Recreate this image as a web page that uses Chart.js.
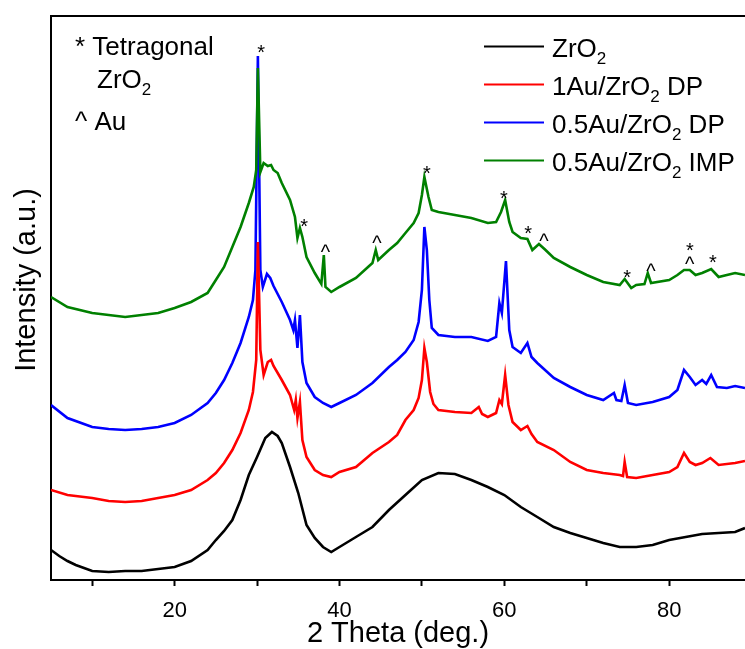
<!DOCTYPE html>
<html>
<head>
<meta charset="UTF-8">
<title>XRD - Au/ZrO2</title>
<script src="https://cdn.jsdelivr.net/npm/chart.js"></script>
<style>
  body { margin: 0; background: #fff; }
  canvas { display: block; }
</style>
</head>
<body>
<canvas id="chart" width="745" height="649"></canvas>
<script>
// [2theta, intensity], curves already stacked with their offsets
const zro2 = [
  [5,30],[6,24],[7,19],[8,15],[10,9],[12,8],[14,9],[16,9],[18,11],[20,13],[22,19],[24,30],
  [25,40],[26,49],[27,60],[28,80],[29,105],[30,123],[31,142],[31.8,148],[32.5,144],[33,137],
  [34,113],[35,87],[36,55],[37,42],[38,33],[39,28],[40,33],[42,43],[44,53],[46,70],[48,85],
  [50,100],[52,107],[54,106],[56,100],[58,93],[60,85],[62,73],[64,63],[66,53],[68,47],[70,42],
  [72,37],[74,33],[76,33],[78,35],[80,40],[82,43],[84,46],[86,47],[88,48],[89.2,52]
];
const au1Dp = [
  [5,90],[7,85],[10,82],[12,79],[14,78],[16,79],[18,82],[20,85],[22,90],[24,100],[25,107],
  [26,117],[27,130],[28,147],[29,170],[29.5,188],[29.9,220],[30.1,338],[30.4,230],[30.8,205],
  [31.3,218],[31.7,220],[32,214],[33,200],[34,185],[34.5,170],[34.7,180],[34.9,162],[35.2,178],
  [35.5,140],[36,123],[37,110],[38,105],[39,103],[40,108],[42,113],[44,127],[46,138],[47,145],
  [48,160],[49,170],[49.6,182],[50,200],[50.3,232],[50.6,218],[51,188],[51.4,176],[52,170],
  [54,168],[56,167],[56.9,173],[57.3,166],[58,163],[59,167],[59.4,180],[59.7,176],[60.1,205],
  [60.5,175],[61,158],[62,150],[62.8,154],[63.3,146],[64,138],[66,130],[68,118],[70,110],
  [72,107],[74,105],[74.4,104],[74.6,118],[74.9,103],[76,102],[78,105],[80,108],[81,113],
  [81.8,127],[82.5,118],[83.2,115],[84,117],[85,122],[86,115],[88,117],[89.2,119]
];
const au05Dp = [
  [5,175],[7,162],[10,153],[12,151],[14,150],[16,151],[18,153],[20,157],[22,165],[24,177],
  [25,187],[26,200],[27,217],[28,237],[29,263],[29.5,280],[29.8,310],[30.1,524],[30.4,310],
  [30.7,293],[31.2,306],[31.6,302],[32,294],[33,278],[34,260],[34.4,250],[34.6,260],[34.9,232],
  [35.2,265],[35.5,218],[36,197],[37,183],[38,177],[39,173],[40,177],[42,185],[44,197],[46,213],
  [47,220],[48,228],[49,240],[49.6,258],[50,290],[50.3,353],[50.6,330],[50.9,280],[51.2,252],
  [52,245],[54,243],[56,243],[58,239],[59,243],[59.4,277],[59.7,267],[60.2,319],[60.6,250],
  [61,233],[62,227],[62.8,237],[63.3,223],[64,217],[66,202],[68,193],[70,185],[72,180],
  [73.3,187],[73.6,180],[74.2,179],[74.6,195],[75,177],[76,175],[78,178],[80,183],[81,190],
  [81.8,210],[82.5,203],[83.2,195],[84,200],[84.5,196],[85.1,205],[85.8,193],[87,192],[88,194],
  [89.2,192]
];
const au05Imp = [
  [5,283],[7,273],[10,267],[12,265],[14,263],[16,265],[18,267],[20,272],[22,278],[24,287],
  [25,300],[26,313],[27,333],[28,353],[29,377],[29.6,393],[29.9,410],[30.1,512],[30.4,408],
  [30.8,417],[31.3,414],[31.7,415],[32,410],[32.5,407],[33,397],[34,380],[34.6,363],[34.9,342],
  [35.2,352],[35.5,343],[36,323],[37,307],[37.8,296],[38.1,325],[38.3,293],[39,288],[40,293],
  [42,302],[44,317],[44.4,330],[44.7,320],[46,330],[47,337],[48,347],[49,357],[49.6,367],
  [50,385],[50.3,403],[50.8,383],[51.2,370],[52,368],[54,365],[56,362],[58,357],[59,358],
  [59.6,368],[60.1,380],[60.6,358],[61,348],[62,342],[62.8,341],[63.4,330],[64.2,336],[65,330],
  [66,322],[68,313],[70,305],[72,298],[74,295],[74.6,301],[75.4,292],[76,295],[77,296],
  [77.4,307],[77.8,297],[80,300],[81,305],[81.8,310],[82.5,310],[83.2,305],[84,307],[85.1,311],
  [86,303],[87,305],[88,307],[89.2,305]
];

const seriesNames = ['ZrO₂', '1Au/ZrO₂ DP', '0.5Au/ZrO₂ DP', '0.5Au/ZrO₂ IMP'];
const seriesData = [zro2, au1Dp, au05Dp, au05Imp];
const seriesColors = ['#000000', '#ff0000', '#0000ff', '#008000'];
const drawOrder = [3, 1, 2, 0];

// reflection markers on the IMP pattern
const markerTheta  = [30.5, 35.7, 38.3, 44.55, 50.6, 59.95, 62.9, 64.8, 74.9, 77.8, 82.5, 82.5, 85.3];
const markerLevel  = [532, 358, 332, 341, 411, 386, 351, 343, 307, 313, 334, 320, 322];
const markerSymbol = ['*', '*', '^', '^', '*', '*', '*', '^', '*', '^', '*', '^', '*'];

const phaseKey = ['* Tetragonal', 'ZrO₂', '^ Au'];

const xTicks = [10, 20, 30, 40, 50, 60, 70, 80];
const xTickLabels = [20, 40, 60, 80];
const yTitle = 'Intensity (a.u.)';

const FONT = "'Liberation Sans', Arial, sans-serif";
Chart.defaults.font.family = FONT;
Chart.defaults.color = '#000';

function drawRich(ctx, text, x, y, size) {
  let cx = x;
  for (const part of text.split(/(₂)/)) {
    if (!part) continue;
    if (part === '₂') {
      ctx.font = Math.round(size * 0.66) + 'px ' + FONT;
      ctx.fillText('2', cx, y + size * 0.27);
      cx += ctx.measureText('2').width;
    } else {
      ctx.font = size + 'px ' + FONT;
      ctx.fillText(part, cx, y);
      cx += ctx.measureText(part).width;
    }
  }
}

const overlay = {
  id: 'overlay',
  afterDraw(chart) {
    const { ctx, scales: { x, y } } = chart;
    ctx.save();
    ctx.fillStyle = '#000';

    ctx.font = '20px ' + FONT;
    ctx.textAlign = 'center';
    ctx.textBaseline = 'alphabetic';
    markerTheta.forEach((t, i) => {
      ctx.fillText(markerSymbol[i], x.getPixelForValue(t), y.getPixelForValue(markerLevel[i]) + 11);
    });

    // y axis title, sits a bit above the axis middle in the original
    ctx.save();
    ctx.translate(35, 280);
    ctx.rotate(-Math.PI / 2);
    ctx.font = '29px ' + FONT;
    ctx.fillText(yTitle, 0, 0);
    ctx.restore();

    ctx.textAlign = 'left';
    seriesNames.forEach((name, i) => {
      const ly = 46.5 + i * 38;
      ctx.strokeStyle = seriesColors[i];
      ctx.lineWidth = 2;
      ctx.beginPath();
      ctx.moveTo(484, ly);
      ctx.lineTo(544, ly);
      ctx.stroke();
      drawRich(ctx, name, 552, ly + 10, 26);
    });

    drawRich(ctx, phaseKey[0], 75, 55, 26);
    drawRich(ctx, phaseKey[1], 97, 88, 26);
    drawRich(ctx, phaseKey[2], 75, 130, 26);
    ctx.restore();
  }
};

new Chart(document.getElementById('chart'), {
  type: 'line',
  data: {
    datasets: seriesData.map((d, i) => ({
      label: seriesNames[i],
      data: d.map(([x, y]) => ({ x, y })),
      borderColor: seriesColors[i],
      borderWidth: 2.6,
      pointRadius: 0,
      tension: 0,
      fill: false,
      order: drawOrder[i]
    }))
  },
  options: {
    responsive: false,
    animation: false,
    devicePixelRatio: 1,
    layout: { padding: { top: 16, left: 0, right: 0, bottom: 0 } },
    plugins: { legend: { display: false }, tooltip: { enabled: false } },
    scales: {
      x: {
        type: 'linear',
        position: 'bottom',
        min: 5,
        max: 89.2,
        afterBuildTicks: s => { s.ticks = xTicks.map(v => ({ value: v })); },
        afterFit: s => { s.height = 69; },
        ticks: {
          callback: v => xTickLabels.includes(v) ? String(v) : '',
          font: { size: 22 },
          padding: 12,
          maxRotation: 0,
          autoSkip: false
        },
        grid: { display: true, drawOnChartArea: false, drawTicks: true, tickLength: 6, tickWidth: 2, tickColor: '#000' },
        border: { display: true, color: '#000', width: 2 },
        title: { display: true, text: '2 Theta (deg.)', font: { size: 29, lineHeight: 1 }, padding: { top: 0, bottom: 1 } }
      },
      xTop: {
        type: 'linear',
        position: 'top',
        min: 5,
        max: 89.2,
        ticks: { display: false },
        grid: { display: false, drawTicks: false },
        border: { display: true, color: '#000', width: 2 },
        afterFit: s => { s.height = 0; }
      },
      y: {
        min: 0,
        max: 564,
        ticks: { display: false },
        grid: { display: false, drawTicks: false },
        border: { display: true, color: '#000', width: 2 },
        afterFit: s => { s.width = 51; }
      }
    }
  },
  plugins: [overlay]
});
</script>
</body>
</html>
